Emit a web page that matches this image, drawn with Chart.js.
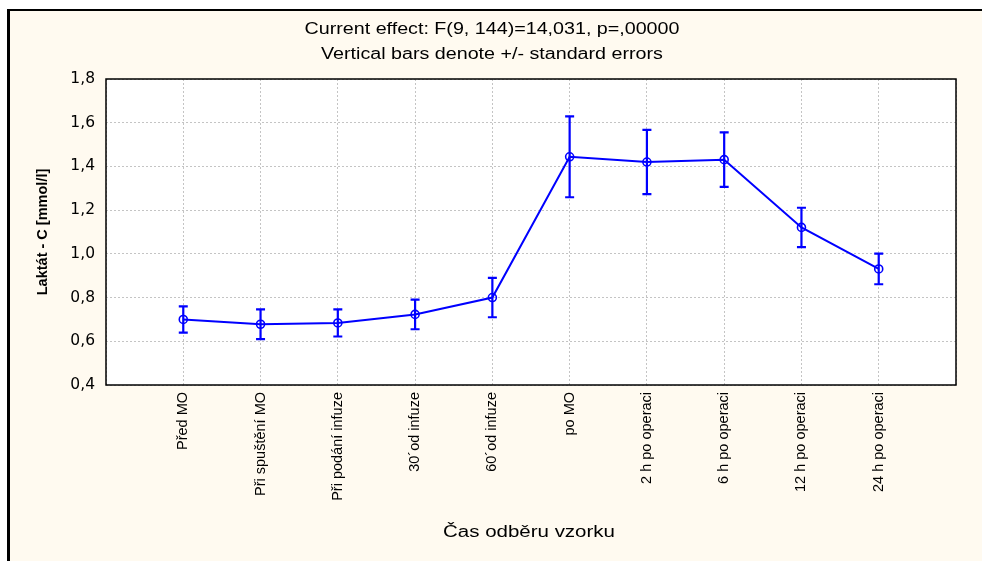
<!DOCTYPE html>
<html>
<head>
<meta charset="utf-8">
<script src="https://cdn.jsdelivr.net/npm/chart.js@4"></script>
<style>
  html, body { margin: 0; padding: 0; background: #fff; }
  body { width: 982px; height: 561px; position: relative; overflow: hidden; }
  #frame {
    position: absolute; left: 7px; top: 9px; right: 0; bottom: 0;
    background: #fffaf0;
    border-left: 3px solid #000; border-top: 2px solid #000;
  }
  #myChart { position: absolute; left: 0; top: 0; }
</style>
</head>
<body>
<div id="frame"></div>
<canvas id="myChart" width="982" height="561"></canvas>
<script>
const labels = ["Před MO", "Při spuštění MO", "Při podání infuze", "30´od infuze", "60´od infuze",
  "po MO", "2 h po operaci", "6 h po operaci", "12 h po operaci", "24 h po operaci"];
const means = [0.70, 0.678, 0.684, 0.723, 0.80, 1.444, 1.420, 1.431, 1.121, 0.931];
const stdErr = [0.06, 0.068, 0.062, 0.068, 0.09, 0.185, 0.147, 0.125, 0.09, 0.07];
const yTicks = [0.4, 0.6, 0.8, 1.0, 1.2, 1.4, 1.6, 1.8];
const titleLines = ["Current effect: F(9, 144)=14,031, p=,00000", "Vertical bars denote +/- standard errors"];
const xTitle = "Čas odběru vzorku";
const yTitle = "Laktát - C [mmol/l]";

const blue = "#0000ff";

// plot background, frame, error bars and stretched texts
const extras = {
  id: "extras",
  beforeDraw(chart) {
    const { ctx, chartArea: a } = chart;
    ctx.save();
    ctx.fillStyle = "#fff";
    ctx.fillRect(a.left, a.top, a.right - a.left, a.bottom - a.top);
    ctx.restore();
  },
  afterDatasetsDraw(chart) {
    const { ctx, scales: { x, y } } = chart;
    ctx.save();
    ctx.strokeStyle = blue;
    ctx.lineWidth = 2.2;
    means.forEach((m, i) => {
      const px = x.getPixelForValue(i);
      const top = y.getPixelForValue(m + stdErr[i]);
      const bot = y.getPixelForValue(m - stdErr[i]);
      ctx.beginPath();
      ctx.moveTo(px, top); ctx.lineTo(px, bot);
      ctx.moveTo(px - 4.5, top); ctx.lineTo(px + 4.5, top);
      ctx.moveTo(px - 4.5, bot); ctx.lineTo(px + 4.5, bot);
      ctx.stroke();
    });
    ctx.restore();
  },
  afterDraw(chart) {
    const { ctx, chartArea: a } = chart;
    ctx.save();
    ctx.strokeStyle = "#000";
    ctx.lineWidth = 1.5;
    ctx.strokeRect(a.left, a.top, a.right - a.left, a.bottom - a.top);

    ctx.fillStyle = "#000";
    ctx.textAlign = "center";
    ctx.textBaseline = "middle";
    ctx.font = '16px "Liberation Sans", Arial, sans-serif';
    const put = (text, cx, cy, sx) => {
      ctx.save();
      ctx.translate(cx, cy);
      ctx.scale(sx, 1);
      ctx.fillText(text, 0, 0);
      ctx.restore();
    };
    put(titleLines[0], 492, 30, 1.23);
    put(titleLines[1], 492, 55, 1.23);
    put(xTitle, (a.left + a.right) / 2 - 2, 533, 1.28);
    ctx.restore();
  }
};

const ctx = document.getElementById("myChart").getContext("2d");

new Chart(ctx, {
  type: "line",
  data: {
    datasets: [
      {
        data: means.map((m, i) => ({ x: i, y: m })),
        borderColor: blue,
        borderWidth: 2,
        pointRadius: 4,
        pointBorderWidth: 1.6,
        pointBorderColor: blue,
        pointBackgroundColor: "rgba(0,0,0,0)",
        tension: 0,
        fill: false,
      },
    ],
  },
  options: {
    responsive: false,
    animation: false,
    devicePixelRatio: 1,
    layout: { padding: { top: 79, right: 26, left: 0, bottom: 0 } },
    plugins: {
      legend: { display: false },
      tooltip: { enabled: false },
    },
    scales: {
      x: {
        type: "linear",
        min: -1,
        max: 10,
        afterFit: (s) => { s.height = 176; },
        afterBuildTicks: (s) => { s.ticks = labels.map((l, i) => ({ value: i })).concat([{ value: -1 }, { value: 10 }]); },
        grid: { color: "#c4c4c4", drawTicks: false, lineWidth: 1 },
        border: { display: false, dash: [2, 2] },
        ticks: {
          autoSkip: false,
          minRotation: 90,
          maxRotation: 90,
          padding: 7,
          color: "#000",
          font: { family: '"Liberation Sans", Arial, sans-serif', size: 14.5 },
          callback: (v) => labels[v] || "",
        },
      },
      y: {
        min: 0.4,
        max: 1.8,
        afterFit: (s) => { s.width = 106; },
        afterBuildTicks: (s) => { s.ticks = yTicks.map((v) => ({ value: v })); },
        grid: { color: "#c4c4c4", drawTicks: false, lineWidth: 1 },
        border: { display: false, dash: [2, 2] },
        ticks: {
          padding: 11,
          color: "#000",
          font: { family: '"DejaVu Sans", Verdana, sans-serif', size: 15.5 },
          callback: (v) => v.toFixed(1).replace(".", ","),
        },
        title: {
          display: true,
          text: yTitle,
          color: "#000",
          padding: { top: 34, bottom: 0 },
          font: { family: '"Liberation Sans", Arial, sans-serif', size: 14.5, weight: "bold" },
        },
      },
    },
  },
  plugins: [extras],
});
</script>
</body>
</html>
